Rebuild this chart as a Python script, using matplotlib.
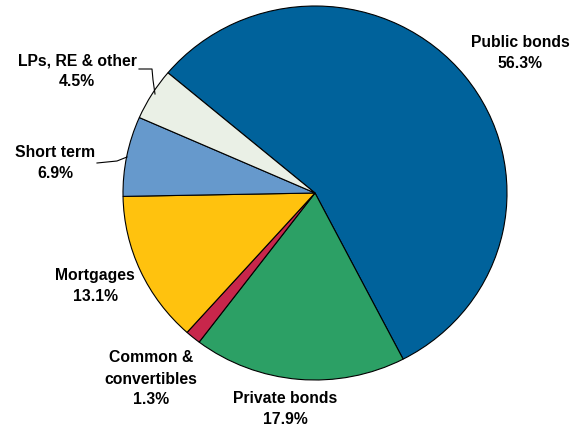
import matplotlib
matplotlib.use("Agg")
import matplotlib.pyplot as plt
from matplotlib.lines import Line2D

categories = ["Public bonds", "Private bonds", "Common &\nconvertibles", "Mortgages", "Short term", "LPs, RE & other"]
values = [56.3, 17.9, 1.3, 13.1, 6.9, 4.5]
colors = ["#00629B", "#2CA065", "#C8264B", "#FFC20E", "#6699CC", "#EAF0E6"]

W, H = 582, 430
fig = plt.figure(figsize=(W / 100, H / 100), dpi=100)
cx, cy, rx, ry = 315, 193, 192, 187
ax = fig.add_axes([(cx - rx) / W, (H - (cy + ry)) / H, 2 * rx / W, 2 * ry / H])
ax.pie(values, colors=colors, startangle=140, counterclock=False,
       wedgeprops=dict(edgecolor="black", linewidth=0.8))
ax.set_xlim(-1.0, 1.0)
ax.set_ylim(-1.0, 1.0)
ax.set_aspect("auto")
ax.axis("off")

label_pos = [(520, 53), (285, 409), (151, 379), (95, 286), (55, 163), (77, 71)]
for cat, val, (x, y) in zip(categories, values, label_pos):
    fig.text(x / W, 1 - y / H, f"{cat}\n{val:.1f}%", ha="center", va="center",
             fontsize=11.3, fontweight="bold", family=["Liberation Sans", "DejaVu Sans"],
             linespacing=1.5)

def leader(xs, ys):
    fig.add_artist(Line2D([x / W for x in xs], [1 - y / H for y in ys],
                          color="black", linewidth=0.8))

leader([139, 152, 153, 155], [69, 69, 80, 94])
leader([97, 117, 127], [163, 161, 157])

fig.savefig("out.png", dpi=100)
